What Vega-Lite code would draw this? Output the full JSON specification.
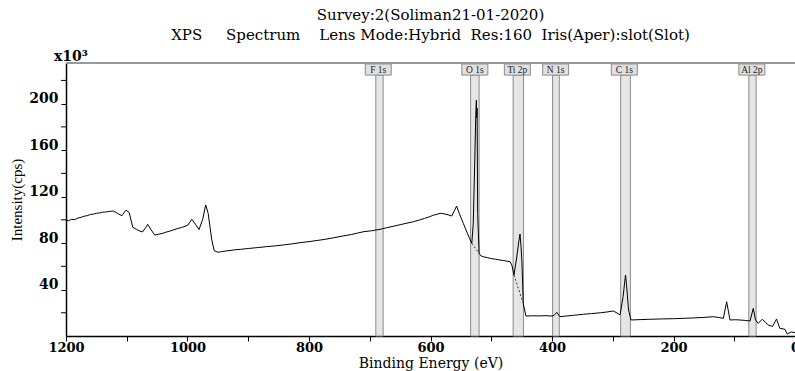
{
  "$schema": "https://vega.github.io/schema/vega-lite/v6.json",
  "width": 729,
  "height": 273,
  "autosize": "none",
  "padding": {"left": 66, "top": 63, "right": 0, "bottom": 35},
  "background": "white",
  "config": {"view": {"stroke": null}, "font": "DejaVu Serif"},
  "title": {
    "text": ["Survey:2(Soliman21-01-2020)", "XPS\u00a0\u00a0\u00a0\u00a0\u00a0Spectrum\u00a0\u00a0\u00a0\u00a0Lens Mode:Hybrid\u00a0\u00a0Res:160\u00a0\u00a0Iris(Aper):slot(Slot)"],
    "font": "DejaVu Serif",
    "fontSize": 15,
    "fontWeight": "normal",
    "color": "black",
    "anchor": "middle",
    "frame": "group",
    "lineHeight": 20,
    "offset": 7
  },
  "datasets": {
    "spectrum": [
      {"be": 1200, "cps": 99.8}, {"be": 1196, "cps": 99.2}, {"be": 1191, "cps": 100.4}, {"be": 1186, "cps": 100.1},
      {"be": 1180, "cps": 101.6}, {"be": 1175, "cps": 102.2}, {"be": 1170, "cps": 103.1}, {"be": 1165, "cps": 103.6},
      {"be": 1160, "cps": 104.6}, {"be": 1155, "cps": 104.9}, {"be": 1150, "cps": 105.6}, {"be": 1145, "cps": 105.9},
      {"be": 1140, "cps": 106.5}, {"be": 1135, "cps": 106.7}, {"be": 1128, "cps": 107.3}, {"be": 1122, "cps": 107.6},
      {"be": 1115, "cps": 105.5}, {"be": 1108, "cps": 103.5}, {"be": 1104, "cps": 106.5}, {"be": 1101, "cps": 108.4},
      {"be": 1096, "cps": 106.3}, {"be": 1090, "cps": 93.5}, {"be": 1084, "cps": 91.8}, {"be": 1078, "cps": 90.2},
      {"be": 1074, "cps": 89.6}, {"be": 1069, "cps": 93.2}, {"be": 1065.5, "cps": 96.1}, {"be": 1060, "cps": 91.5},
      {"be": 1054, "cps": 86.9}, {"be": 1048, "cps": 87.6}, {"be": 1042, "cps": 88.2}, {"be": 1036, "cps": 89.3},
      {"be": 1030, "cps": 90.1}, {"be": 1024, "cps": 91.2}, {"be": 1017, "cps": 92.4}, {"be": 1010, "cps": 93.4},
      {"be": 1004, "cps": 94.4}, {"be": 999, "cps": 95.6}, {"be": 993, "cps": 100.5}, {"be": 987, "cps": 96.2},
      {"be": 981, "cps": 91.6}, {"be": 975, "cps": 100.5}, {"be": 970, "cps": 112.8}, {"be": 966, "cps": 105.6},
      {"be": 960, "cps": 82.6}, {"be": 956, "cps": 73.4}, {"be": 950, "cps": 72.1}, {"be": 944, "cps": 72.6},
      {"be": 938, "cps": 73.1}, {"be": 930, "cps": 73.6}, {"be": 922, "cps": 74.2}, {"be": 913, "cps": 74.6},
      {"be": 900, "cps": 75.3}, {"be": 885, "cps": 76.1}, {"be": 870, "cps": 76.9}, {"be": 855, "cps": 77.6},
      {"be": 840, "cps": 78.5}, {"be": 828, "cps": 79.3}, {"be": 815, "cps": 80.3}, {"be": 800, "cps": 81.2},
      {"be": 790, "cps": 82.0}, {"be": 775, "cps": 83.1}, {"be": 760, "cps": 84.5}, {"be": 745, "cps": 86.0},
      {"be": 730, "cps": 87.4}, {"be": 720, "cps": 88.6}, {"be": 710, "cps": 89.8}, {"be": 697, "cps": 90.6},
      {"be": 683, "cps": 91.8}, {"be": 672, "cps": 93.2}, {"be": 660, "cps": 94.6}, {"be": 650, "cps": 95.8},
      {"be": 640, "cps": 97.0}, {"be": 628, "cps": 98.4}, {"be": 618, "cps": 99.9}, {"be": 610, "cps": 101.2},
      {"be": 602, "cps": 102.6}, {"be": 595, "cps": 104.0}, {"be": 589, "cps": 104.8}, {"be": 584, "cps": 105.6},
      {"be": 578, "cps": 105.2}, {"be": 571, "cps": 104.3}, {"be": 565, "cps": 103.3}, {"be": 561, "cps": 107.5},
      {"be": 557, "cps": 111.9}, {"be": 553, "cps": 106.0}, {"be": 546, "cps": 97.0}, {"be": 539, "cps": 88.0},
      {"be": 532, "cps": 79.8}, {"be": 529.6, "cps": 97.0}, {"be": 527, "cps": 154.0}, {"be": 525.5, "cps": 190.0},
      {"be": 524.5, "cps": 203.0}, {"be": 524, "cps": 188.0}, {"be": 523.3, "cps": 196.0}, {"be": 522.4, "cps": 105.6},
      {"be": 520, "cps": 71.2}, {"be": 517, "cps": 69.0}, {"be": 513, "cps": 68.2}, {"be": 506, "cps": 67.4},
      {"be": 500, "cps": 66.6}, {"be": 493, "cps": 66.1}, {"be": 486, "cps": 65.4}, {"be": 480, "cps": 65.0},
      {"be": 474, "cps": 64.4}, {"be": 469, "cps": 64.0}, {"be": 466, "cps": 61.0}, {"be": 462.6, "cps": 52.5},
      {"be": 458, "cps": 68.0}, {"be": 455, "cps": 80.0}, {"be": 452.7, "cps": 87.8}, {"be": 451, "cps": 76.9},
      {"be": 449.5, "cps": 64.0}, {"be": 447.3, "cps": 28.1}, {"be": 443, "cps": 17.2}, {"be": 432, "cps": 17.4},
      {"be": 420, "cps": 17.3}, {"be": 410, "cps": 17.5}, {"be": 403, "cps": 17.2}, {"be": 397, "cps": 17.6},
      {"be": 392, "cps": 20.4}, {"be": 387, "cps": 16.6}, {"be": 378, "cps": 17.1}, {"be": 365, "cps": 17.8},
      {"be": 348, "cps": 18.7}, {"be": 335, "cps": 19.3}, {"be": 320, "cps": 20.0}, {"be": 308, "cps": 20.8},
      {"be": 299, "cps": 21.5}, {"be": 292, "cps": 19.5}, {"be": 288, "cps": 18.1}, {"be": 283, "cps": 33.8},
      {"be": 279, "cps": 52.5}, {"be": 277.5, "cps": 45.4}, {"be": 274, "cps": 22.4}, {"be": 270, "cps": 13.8},
      {"be": 255, "cps": 14.1}, {"be": 239, "cps": 14.4}, {"be": 220, "cps": 14.7}, {"be": 200, "cps": 14.9},
      {"be": 184, "cps": 15.2}, {"be": 165, "cps": 15.6}, {"be": 150, "cps": 16.0}, {"be": 134.5, "cps": 16.6},
      {"be": 124, "cps": 15.8}, {"be": 118, "cps": 15.2}, {"be": 112.5, "cps": 29.5}, {"be": 107, "cps": 13.8},
      {"be": 98, "cps": 14.0}, {"be": 90.6, "cps": 13.8}, {"be": 82, "cps": 13.4}, {"be": 74, "cps": 12.9},
      {"be": 68.7, "cps": 23.8}, {"be": 65, "cps": 13.8}, {"be": 60.5, "cps": 10.9}, {"be": 54, "cps": 14.4},
      {"be": 49, "cps": 12.0}, {"be": 44, "cps": 9.5}, {"be": 37, "cps": 8.2}, {"be": 30.4, "cps": 14.6},
      {"be": 25, "cps": 6.6}, {"be": 16.6, "cps": 5.8}, {"be": 12.8, "cps": 1.7}, {"be": 6, "cps": 3.5},
      {"be": 0, "cps": 2.8}
    ],
    "background": [
      {"seg": "O 1s", "be": 532, "cps": 79.8}, {"seg": "O 1s", "be": 520, "cps": 71.2},
      {"seg": "Ti 2p", "be": 462.6, "cps": 52.5}, {"seg": "Ti 2p", "be": 447.3, "cps": 28.1}
    ],
    "peaks": [
      {"peak": "F 1s", "lo": 678, "hi": 690, "mid": 686},
      {"peak": "O 1s", "lo": 520, "hi": 534, "mid": 527},
      {"peak": "Ti 2p", "lo": 447, "hi": 464, "mid": 457},
      {"peak": "N 1s", "lo": 388, "hi": 399, "mid": 394},
      {"peak": "C 1s", "lo": 271, "hi": 287, "mid": 281},
      {"peak": "Al 2p", "lo": 64, "hi": 76, "mid": 71}
    ],
    "minorticks": [{"v": 20}, {"v": 60}, {"v": 100}, {"v": 140}, {"v": 180}, {"v": 220}],
    "one": [{}]
  },
  "layer": [
    {
      "data": {"name": "peaks"},
      "mark": {"type": "rect", "fill": "#e6e6e6", "stroke": "#8a8a8a", "strokeWidth": 1},
      "encoding": {
        "x": {"field": "lo", "type": "quantitative"},
        "x2": {"field": "hi"},
        "y": {"datum": 0, "type": "quantitative"},
        "y2": {"datum": 224.6}
      }
    },
    {
      "data": {"name": "spectrum"},
      "mark": {"type": "line", "color": "black", "strokeWidth": 1},
      "encoding": {
        "x": {
          "field": "be", "type": "quantitative",
          "scale": {"domain": [1200, 0], "nice": false, "zero": false},
          "axis": {
            "title": "Binding Energy (eV)",
            "titleFont": "DejaVu Serif", "titleFontSize": 14, "titleFontWeight": "normal", "titleColor": "black",
            "titlePadding": 2,
            "values": [1200, 1150, 1100, 1050, 1000, 950, 900, 850, 800, 750, 700, 650, 600, 550, 500, 450, 400, 350, 300, 250, 200, 150, 100, 50, 0],
            "labelExpr": "datum.value % 200 === 0 ? format(datum.value, 'd') : ''",
            "labelFont": "DejaVu Serif", "labelFontSize": 13, "labelFontWeight": "bold", "labelColor": "black",
            "labelFlush": false, "labelPadding": 0, "labelOverlap": false,
            "domainColor": "black", "domainWidth": 1.5, "tickColor": "black", "tickSize": 5, "grid": false
          }
        },
        "y": {
          "field": "cps", "type": "quantitative",
          "scale": {"domain": [0, 235], "nice": false},
          "axis": {
            "title": "Intensity(cps)",
            "titleFont": "Liberation Serif", "titleFontSize": 15, "titleFontWeight": "normal", "titleColor": "black",
            "titlePadding": 4,
            "values": [40, 80, 120, 160, 200],
            "labelFont": "DejaVu Serif", "labelFontSize": 14, "labelFontWeight": "bold", "labelColor": "black",
            "labelPadding": 3, "labelOffset": -5,
            "domainColor": "black", "domainWidth": 1.5, "tickColor": "black", "tickSize": 5, "grid": false
          }
        }
      }
    },
    {
      "data": {"name": "background"},
      "mark": {"type": "line", "color": "#333333", "strokeWidth": 1, "strokeDash": [2, 2]},
      "encoding": {
        "x": {"field": "be", "type": "quantitative"},
        "y": {"field": "cps", "type": "quantitative"},
        "detail": {"field": "seg"}
      }
    },
    {
      "data": {"name": "minorticks"},
      "mark": {"type": "rule", "color": "black", "strokeWidth": 1},
      "encoding": {
        "x": {"datum": 1208.2},
        "x2": {"datum": 1200},
        "y": {"field": "v", "type": "quantitative"}
      }
    },
    {
      "data": {"name": "peaks"},
      "mark": {"type": "rect", "width": 26, "fill": "#e0e0e0", "stroke": "#8a8a8a", "strokeWidth": 1},
      "encoding": {
        "x": {"field": "mid", "type": "quantitative"},
        "y": {"datum": 234.2},
        "y2": {"datum": 224.6}
      }
    },
    {
      "data": {"name": "peaks"},
      "mark": {"type": "text", "font": "Liberation Serif", "fontSize": 9.5, "color": "#222222", "align": "center", "baseline": "middle"},
      "encoding": {
        "x": {"field": "mid", "type": "quantitative"},
        "y": {"datum": 229.4},
        "text": {"field": "peak"}
      }
    },
    {
      "data": {"name": "one"},
      "mark": {"type": "rule", "color": "#999999", "strokeWidth": 2},
      "encoding": {"y": {"datum": 235}}
    },
    {
      "data": {"name": "one"},
      "mark": {"type": "text", "font": "DejaVu Serif", "fontSize": 14, "fontWeight": "bold", "color": "black", "align": "left", "baseline": "alphabetic", "dx": -12, "dy": -2, "text": "x10³"},
      "encoding": {"x": {"datum": 1200}, "y": {"datum": 235}}
    }
  ]
}
